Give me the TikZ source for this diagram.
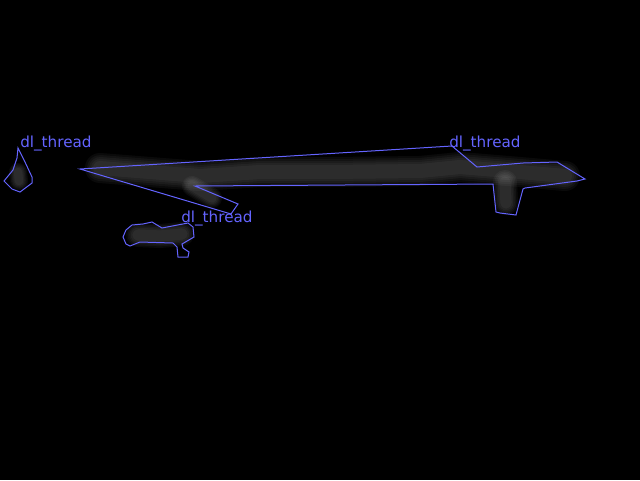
\documentclass[tikz,border=0pt]{standalone}
\usepackage{fontspec}
\newfontfamily\tagfont{DejaVu Sans}
\usepackage{tikz}

\definecolor{cvblue}{RGB}{100,100,255}
\tikzset{
  region/.style={draw=cvblue, line width=0.75pt, line join=miter},
  tag/.style={text=cvblue, font=\tagfont\fontsize{11.4}{12}\selectfont, anchor=base west, inner sep=0pt},
  haze/.style={draw=white, line cap=round, line join=round, opacity=0.04},
}

\begin{document}
\begin{tikzpicture}[x=0.75pt,y=-0.75pt]
  \fill[black] (0,0) rectangle (640,480);
  \useasboundingbox (0,0) rectangle (640,480);
  % smudges
  \foreach \w in {30,26,22,18,14} {
    \draw[haze, line width=\w*0.75pt]
      (100,168) -- (150,172) -- (200,176) -- (260,172) -- (330,172) -- (420,171)
      -- (460,167) -- (520,172) -- (565,176);
    \draw[haze, line width=\w*0.6pt] (505,182) -- (506,203);
    \draw[haze, line width=\w*0.5pt] (192,186) -- (212,198);
    \draw[haze, line width=\w*0.6pt] (138,235) -- (160,236) -- (182,234);
    \draw[haze, line width=\w*0.45pt] (18,172) -- (19,181);
  }
  % outlines
  \draw[region] (18,148) -- (25,162) -- (32,177) -- (32,183) -- (20,192) -- (12,189)
    -- (4,181) -- (13,170) -- (17,158) -- cycle;
  \draw[region] (80,169) -- (452,146) -- (477,167) -- (523,163) -- (557,162)
    -- (585,179) -- (577,181) -- (525,188) -- (523,189) -- (516,215) -- (500,213)
    -- (496,212) -- (493,184) -- (195,186) -- (238,204) -- (231,214) -- cycle;
  \draw[region] (123,237) -- (126,230) -- (132,225) -- (143,224) -- (152,222)
    -- (162,228) -- (188,223) -- (193,227) -- (194,237) -- (182,244) -- (183,248)
    -- (189,252) -- (188,257) -- (178,257) -- (177,247) -- (173,243) -- (140,242)
    -- (130,246) -- (126,244) -- cycle;
  % labels
  \node[tag] (tagA) at (20,147) {dl\_thread};
  \node[tag] (tagB) at (181,222) {dl\_thread};
  \node[tag] (tagC) at (449,147) {dl\_thread};
\end{tikzpicture}
\end{document}
